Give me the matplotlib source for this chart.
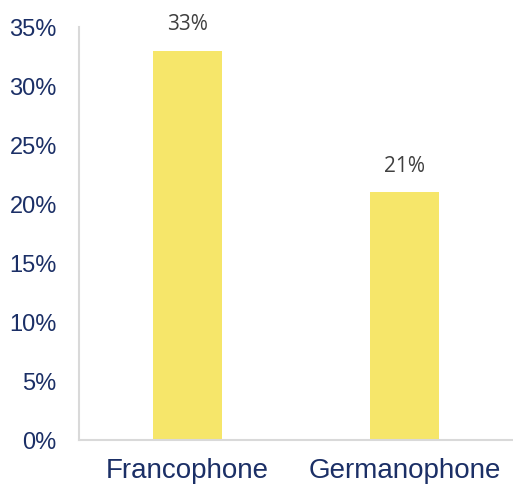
import matplotlib
matplotlib.use("Agg")
import matplotlib.pyplot as plt
from matplotlib.ticker import FuncFormatter

categories = ["Francophone", "Germanophone"]
values = [33, 21]
yticks = [0, 5, 10, 15, 20, 25, 30, 35]

navy = "#1B2F66"
fig = plt.figure(figsize=(5.13, 4.86), dpi=100)
ax = fig.add_axes([79/513, 46/486, 1 - 79/513, (440-27)/486])

bars = ax.bar(range(len(categories)), values, width=0.32, color="#F6E66A", zorder=2)
for i, v in enumerate(values):
    ax.annotate(f"{v}%", (i, v), xytext=(0, 11), textcoords="offset points",
                ha="center", va="bottom", fontsize=15, color="#404040",
                family=["Open Sans", "DejaVu Sans"])

ax.set_xlim(-0.5, 1.5)
ax.set_ylim(0, 35)
ax.set_yticks(yticks)
ax.yaxis.set_major_formatter(FuncFormatter(lambda v, p: f"{int(v)}%"))
ax.set_xticks(range(len(categories)))
ax.set_xticklabels(categories)
for lab in ax.get_yticklabels():
    lab.set_fontfamily("Liberation Sans"); lab.set_fontsize(17); lab.set_color(navy)
for lab in ax.get_xticklabels():
    lab.set_fontfamily("Liberation Sans"); lab.set_fontsize(20); lab.set_color(navy)
ax.tick_params(axis="y", length=0, pad=16)
ax.tick_params(axis="x", length=0, pad=13)
for s in ["top", "right"]:
    ax.spines[s].set_visible(False)
for s in ["left", "bottom"]:
    ax.spines[s].set_color("#D9D9D9")
    ax.spines[s].set_linewidth(1.5)

fig.savefig("out.png", dpi=100)
